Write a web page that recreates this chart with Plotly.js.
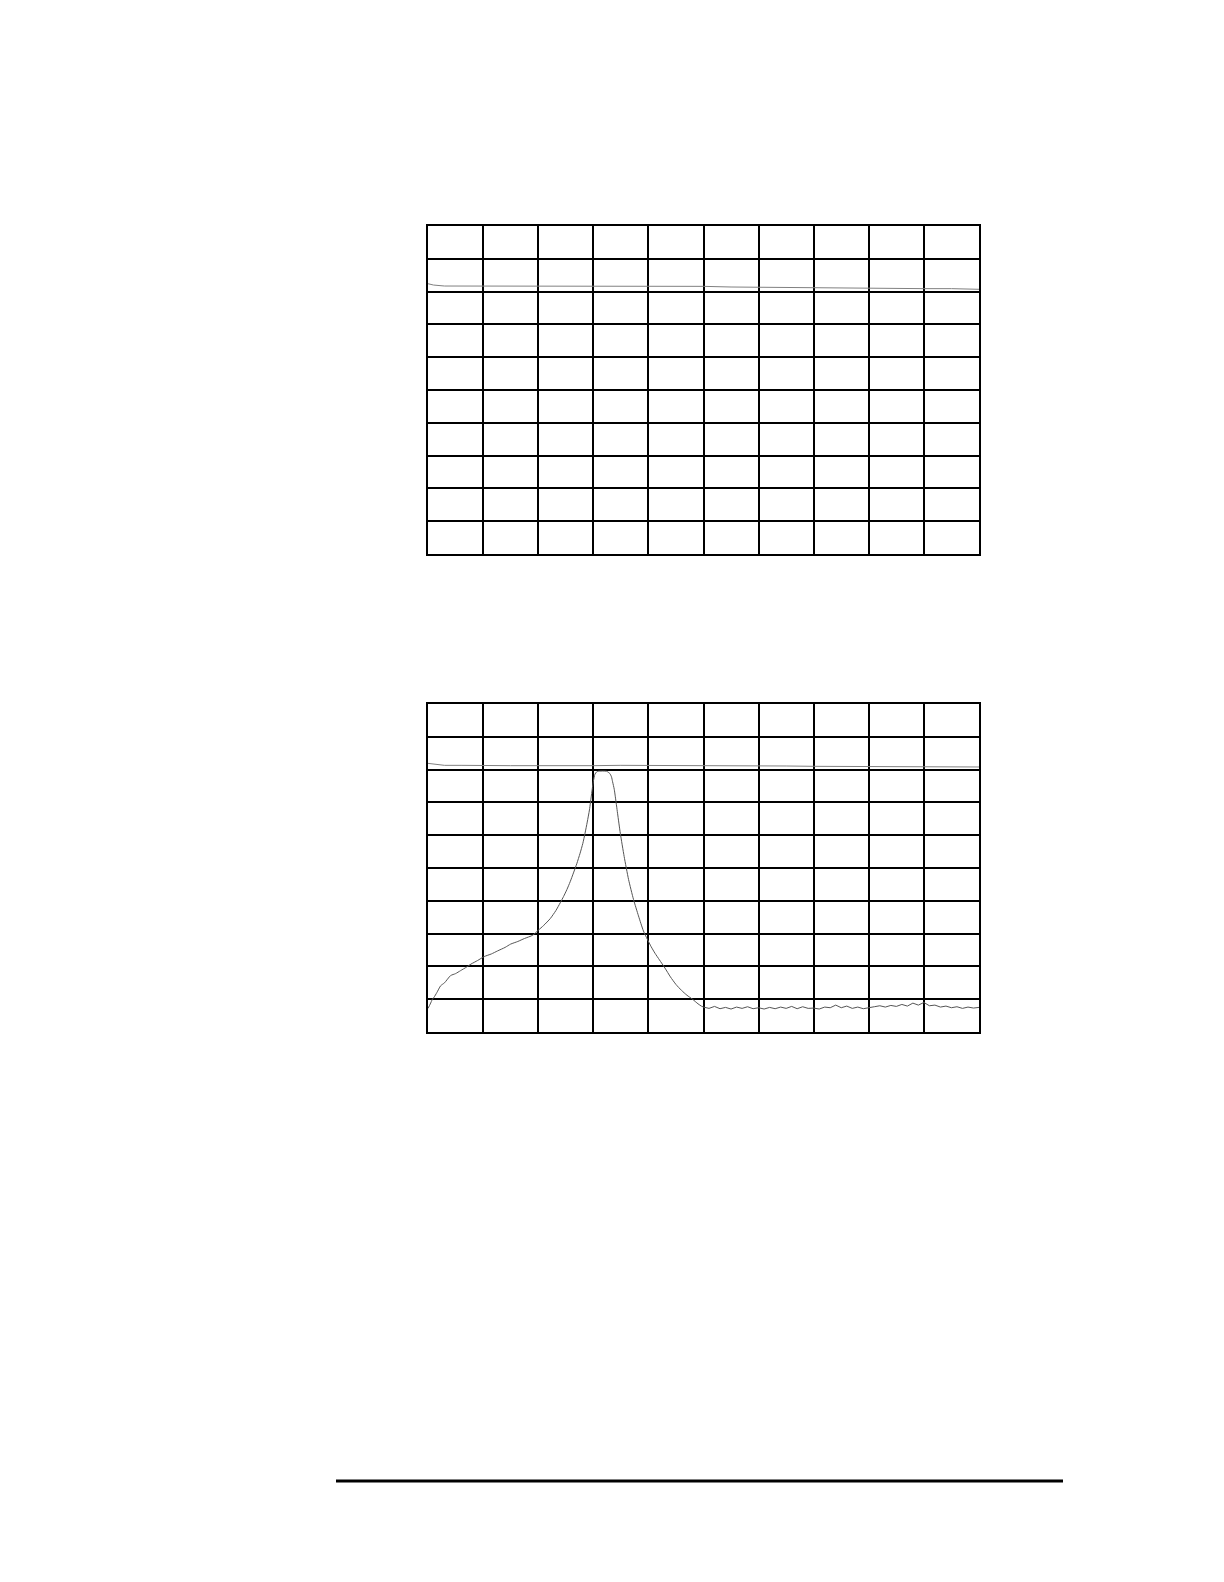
<!DOCTYPE html>
<html>
<head>
<meta charset="utf-8">
<script src="https://cdn.plot.ly/plotly-3.0.1.min.js"></script>
<style>
  html, body { margin: 0; padding: 0; background: #fff; }
</style>
</head>
<body>
<div id="chart" style="width:1224px;height:1582px;"></div>
<script>
// screen divisions: x 0..10, y 0..10 (bottom = 0)
const topRefX = [0, 0.1, 0.3, 0.6, 1, 1.5, 2, 2.5, 3, 3.5, 4, 4.5, 5, 5.5, 6, 6.5, 7, 7.5, 8, 8.5, 9, 9.5, 10];
const topRefY = [8.24, 8.2, 8.17, 8.17, 8.15, 8.15, 8.16, 8.16, 8.17, 8.16, 8.17, 8.15, 8.16, 8.14, 8.13, 8.12, 8.12, 8.11, 8.1, 8.1, 8.09, 8.09, 8.07];

const botRefX = [0, 0.1, 0.3, 0.6, 1, 1.5, 2, 2.5, 3, 3.5, 4, 4.5, 5, 5.5, 6, 6.5, 7, 7.5, 8, 8.5, 9, 9.5, 10];
const botRefY = [8.19, 8.17, 8.13, 8.13, 8.12, 8.12, 8.12, 8.11, 8.12, 8.13, 8.13, 8.12, 8.12, 8.11, 8.11, 8.11, 8.1, 8.1, 8.1, 8.1, 8.09, 8.09, 8.08];

const peakX = [0, 0.04, 0.08, 0.11, 0.16, 0.23, 0.3, 0.41, 0.5, 0.59,
  0.7, 0.78, 0.9, 1.02, 1.15, 1.26, 1.4, 1.5, 1.63, 1.75,
  1.9, 2.0, 2.1, 2.22, 2.32, 2.4, 2.46, 2.52, 2.58, 2.64,
  2.7, 2.76, 2.81, 2.85, 2.89, 2.93, 2.97, 3.0, 3.03, 3.06,
  3.09, 3.24, 3.3, 3.33, 3.35, 3.38, 3.4, 3.44, 3.49, 3.56,
  3.64, 3.73, 3.82, 3.91, 3.98, 4.05, 4.12, 4.2, 4.3, 4.4,
  4.5, 4.6, 4.7, 4.8, 4.9, 4.96];
const peakY = [0.72, 0.85, 1.0, 1.06, 1.2, 1.41, 1.5, 1.72, 1.78, 1.87,
  1.98, 2.07, 2.18, 2.3, 2.38, 2.47, 2.58, 2.68, 2.76, 2.85,
  2.95, 3.1, 3.25, 3.46, 3.7, 3.94, 4.13, 4.34, 4.58, 4.85,
  5.13, 5.45, 5.75, 6.06, 6.4, 6.77, 7.27, 7.63, 7.86, 7.93,
  7.95, 7.95, 7.88, 7.78, 7.63, 7.4, 7.17, 6.67, 6.06, 5.35,
  4.65, 4.04, 3.54, 3.08, 2.83, 2.6, 2.4, 2.2, 1.95, 1.68,
  1.45, 1.27, 1.12, 1.0, 0.86, 0.79];

// noise floor right of the peak
const floorX = [5.0, 5.1, 5.2, 5.3, 5.4, 5.5, 5.6, 5.7, 5.8, 5.9,
  6.0, 6.1, 6.2, 6.3, 6.4, 6.5, 6.6, 6.7, 6.8, 6.9,
  7.0, 7.1, 7.2, 7.3, 7.4, 7.5, 7.6, 7.7, 7.8, 7.9,
  8.0, 8.1, 8.2, 8.3, 8.4, 8.5, 8.6, 8.7, 8.8, 8.9,
  9.0, 9.1, 9.2, 9.3, 9.4, 9.5, 9.6, 9.7, 9.8, 9.9, 10.0];
const floorY = [0.76, 0.72, 0.78, 0.71, 0.75, 0.70, 0.76, 0.72, 0.77, 0.71,
  0.74, 0.70, 0.75, 0.71, 0.76, 0.72, 0.78, 0.71, 0.77, 0.72,
  0.73, 0.70, 0.76, 0.74, 0.82, 0.74, 0.79, 0.72, 0.76, 0.71,
  0.75, 0.77, 0.80, 0.76, 0.81, 0.78, 0.84, 0.79, 0.88, 0.82,
  0.90, 0.80, 0.82, 0.76, 0.79, 0.74, 0.77, 0.72, 0.76, 0.73, 0.75];

const traceColor = '#808080';
const lastX = peakX[peakX.length - 1];
const lastY = peakY[peakY.length - 1];

const data = [
  {x: topRefX, y: topRefY, xaxis: 'x', yaxis: 'y', mode: 'lines', type: 'scatter',
    line: {color: traceColor, width: 1}, hoverinfo: 'skip'},
  {x: botRefX, y: botRefY, xaxis: 'x2', yaxis: 'y2', mode: 'lines', type: 'scatter',
    line: {color: traceColor, width: 1}, hoverinfo: 'skip'},
  {x: peakX, y: peakY, xaxis: 'x2', yaxis: 'y2', mode: 'lines', type: 'scatter',
    line: {color: '#555', width: 1, shape: 'spline', smoothing: 0.6}, hoverinfo: 'skip'},
  {x: [lastX].concat(floorX), y: [lastY].concat(floorY), xaxis: 'x2', yaxis: 'y2',
    mode: 'lines', type: 'scatter', line: {color: '#555', width: 1}, hoverinfo: 'skip'},
];

function gridAxis(domain, anchor) {
  return {
    domain: domain, anchor: anchor, range: [0, 10], dtick: 1, tick0: 0,
    showgrid: true, gridcolor: '#000', gridwidth: 2,
    showline: true, linecolor: '#000', linewidth: 2, mirror: true,
    zeroline: false, showticklabels: false, ticks: '', fixedrange: true,
  };
}

const xd = [428 / 1224, 979 / 1224];
const layout = {
  width: 1224, height: 1582,
  margin: {l: 0, r: 0, t: 0, b: 0},
  paper_bgcolor: '#fff', plot_bgcolor: '#fff',
  showlegend: false,
  xaxis: gridAxis(xd, 'y'),
  yaxis: gridAxis([1 - 554 / 1582, 1 - 226 / 1582], 'x'),
  xaxis2: gridAxis(xd, 'y2'),
  yaxis2: gridAxis([1 - 1032 / 1582, 1 - 704 / 1582], 'x2'),
  shapes: [
    {type: 'line', xref: 'paper', yref: 'paper',
      x0: 336 / 1224, x1: 1063 / 1224, y0: 1 - 1481 / 1582, y1: 1 - 1481 / 1582,
      line: {color: '#000', width: 3}},
  ],
};

Plotly.newPlot('chart', data, layout, {staticPlot: true});
</script>
</body>
</html>
